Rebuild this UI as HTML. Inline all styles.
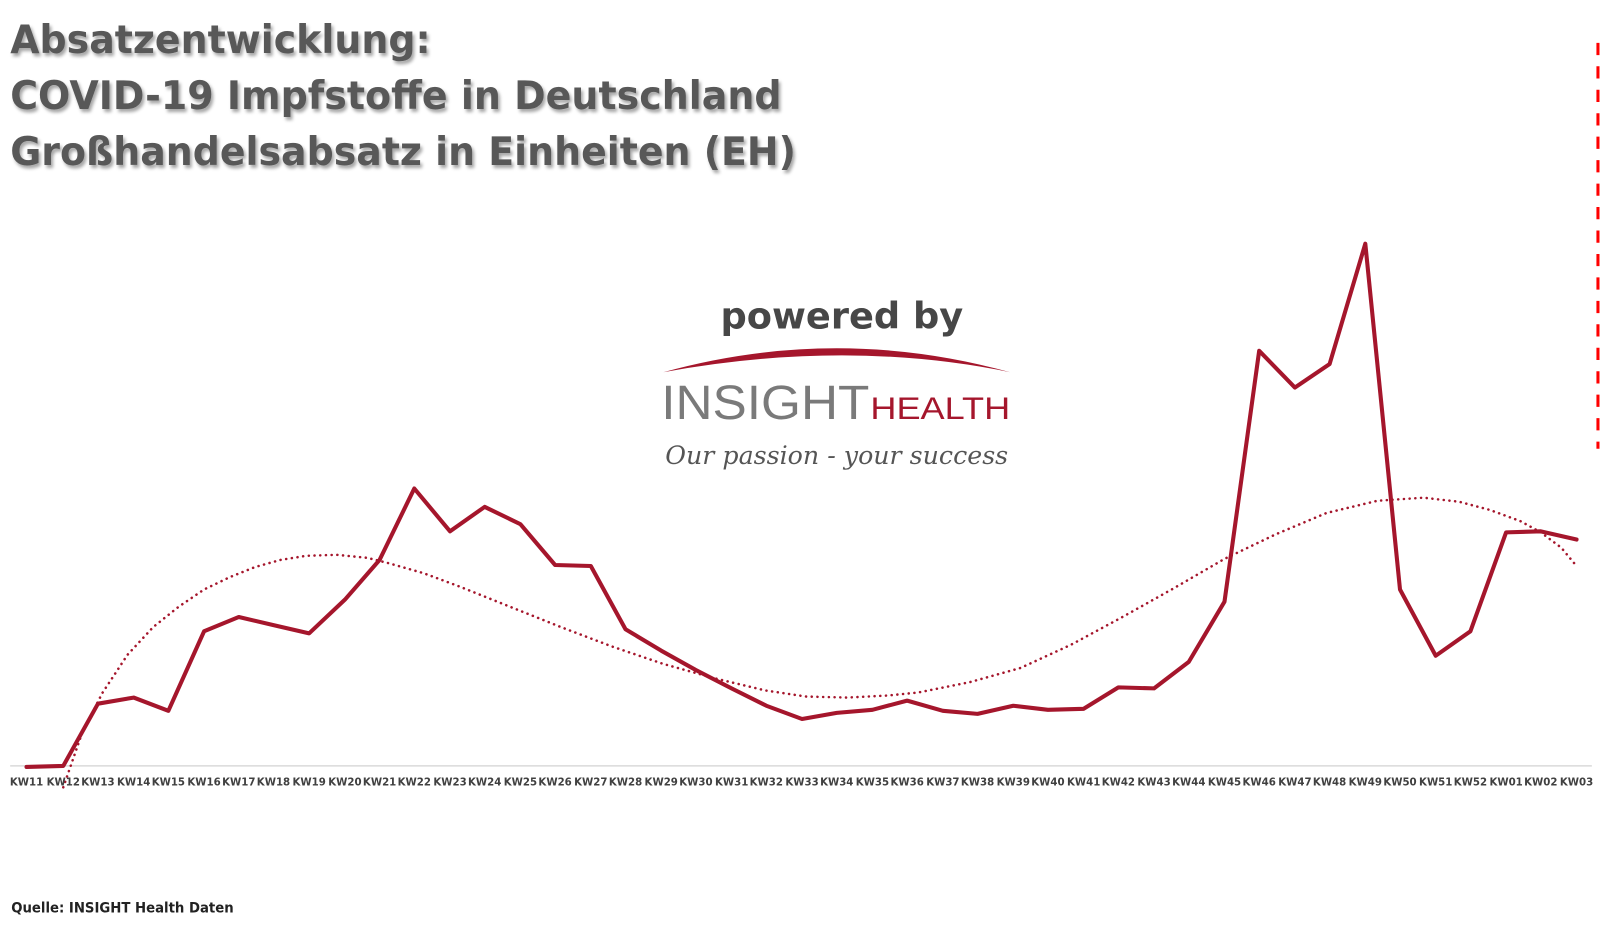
<!DOCTYPE html>
<html><head><meta charset="utf-8"><style>
html,body{margin:0;padding:0;background:#fff;}
svg{display:block}
</style></head><body>
<svg width="1600" height="925" viewBox="0 0 1568 907" preserveAspectRatio="none" xmlns="http://www.w3.org/2000/svg">
<defs>
<filter id="sh" x="-5%" y="-20%" width="110%" height="150%"><feDropShadow dx="2" dy="3" stdDeviation="1.5" flood-color="#000" flood-opacity="0.35"/></filter>
</defs>
<rect width="1568" height="907" fill="#fff"/>
<g font-family="'DejaVu Sans','Liberation Sans',sans-serif" font-weight="bold" font-size="38" fill="#595959" filter="url(#sh)">
<text x="10" y="52" textLength="412" lengthAdjust="spacingAndGlyphs">Absatzentwicklung:</text>
<text x="10" y="107" textLength="756" lengthAdjust="spacingAndGlyphs">COVID-19 Impfstoffe in Deutschland</text>
<text x="10" y="162" textLength="770" lengthAdjust="spacingAndGlyphs">Großhandelsabsatz in Einheiten (EH)</text>
</g>
<line x1="1566" y1="42" x2="1566" y2="440" stroke="#f00" stroke-width="3" stroke-dasharray="12 11"/>
<!-- logo -->
<text x="825" y="322" text-anchor="middle" font-family="'DejaVu Sans','Liberation Sans',sans-serif" font-weight="bold" font-size="36" fill="#474747">powered by</text>
<path d="M650,365 Q820,318 990,365 Q830,332 650,365 Z" fill="#a5162c"/>
<text x="648" y="411" font-family="'Liberation Sans',sans-serif" font-size="47" fill="#7a7a7a" textLength="204" lengthAdjust="spacingAndGlyphs">INSIGHT</text>
<text x="853" y="411" font-family="'Liberation Sans',sans-serif" font-size="31" fill="#a5162c" textLength="137" lengthAdjust="spacingAndGlyphs">HEALTH</text>
<text x="652" y="455" font-family="'DejaVu Serif','Liberation Serif',serif" font-style="italic" font-size="25" fill="#555" textLength="336" lengthAdjust="spacingAndGlyphs">Our passion - your success</text>
<!-- axis -->
<line x1="10" y1="751" x2="1560" y2="751" stroke="#d9d9d9" stroke-width="1.5"/>
<!-- trend -->
<polyline fill="none" stroke="#a5162c" stroke-width="2.5" stroke-linecap="round" stroke-dasharray="0.1 5.5" points="62,772 80,720 100,680 125,642 150,615 175,595 200,578 225,566 250,556 275,549 300,545 330,544 360,547 380,552 415,562 450,575 500,595 550,615 600,634 650,651 700,665 750,677 790,683 830,684 870,682 900,679 950,669 1000,655 1050,632 1100,605 1150,577 1200,548 1250,524 1300,503 1350,491 1395,488 1430,492 1460,500 1490,511 1510,522 1530,537 1545,555"/>
<!-- series -->
<polyline fill="none" stroke="#a5162c" stroke-width="4" stroke-linejoin="round" stroke-linecap="round" points="26,752 62,751 96,690 131,684 165,697 200,619 234,605 268,613 303,621 338,588 372,549 406,479 441,521 475,497 510,514 544,554 579,555 613,617 648,638 682,657 717,675 751,692 786,705 820,699 855,696 889,687 924,697 958,700 993,692 1027,696 1062,695 1096,674 1131,675 1165,649 1200,590 1234,344 1269,380 1303,357 1338,239 1372,578 1407,643 1441,619 1476,522 1510,521 1545,529"/>
<g font-family="'DejaVu Sans','Liberation Sans',sans-serif" font-size="10" font-weight="bold" fill="#404040" text-anchor="middle">
<text x="26" y="770">KW11</text><text x="62" y="770">KW12</text><text x="96" y="770">KW13</text><text x="131" y="770">KW14</text><text x="165" y="770">KW15</text><text x="200" y="770">KW16</text><text x="234" y="770">KW17</text><text x="268" y="770">KW18</text><text x="303" y="770">KW19</text><text x="338" y="770">KW20</text><text x="372" y="770">KW21</text><text x="406" y="770">KW22</text><text x="441" y="770">KW23</text><text x="475" y="770">KW24</text><text x="510" y="770">KW25</text><text x="544" y="770">KW26</text><text x="579" y="770">KW27</text><text x="613" y="770">KW28</text><text x="648" y="770">KW29</text><text x="682" y="770">KW30</text><text x="717" y="770">KW31</text><text x="751" y="770">KW32</text><text x="786" y="770">KW33</text><text x="820" y="770">KW34</text><text x="855" y="770">KW35</text><text x="889" y="770">KW36</text><text x="924" y="770">KW37</text><text x="958" y="770">KW38</text><text x="993" y="770">KW39</text><text x="1027" y="770">KW40</text><text x="1062" y="770">KW41</text><text x="1096" y="770">KW42</text><text x="1131" y="770">KW43</text><text x="1165" y="770">KW44</text><text x="1200" y="770">KW45</text><text x="1234" y="770">KW46</text><text x="1269" y="770">KW47</text><text x="1303" y="770">KW48</text><text x="1338" y="770">KW49</text><text x="1372" y="770">KW50</text><text x="1407" y="770">KW51</text><text x="1441" y="770">KW52</text><text x="1476" y="770">KW01</text><text x="1510" y="770">KW02</text><text x="1545" y="770">KW03</text>
</g>
<text x="11" y="895" font-family="'DejaVu Sans','Liberation Sans',sans-serif" font-weight="bold" font-size="14" fill="#222" textLength="218" lengthAdjust="spacingAndGlyphs">Quelle: INSIGHT Health Daten</text>
</svg>
</body></html>
